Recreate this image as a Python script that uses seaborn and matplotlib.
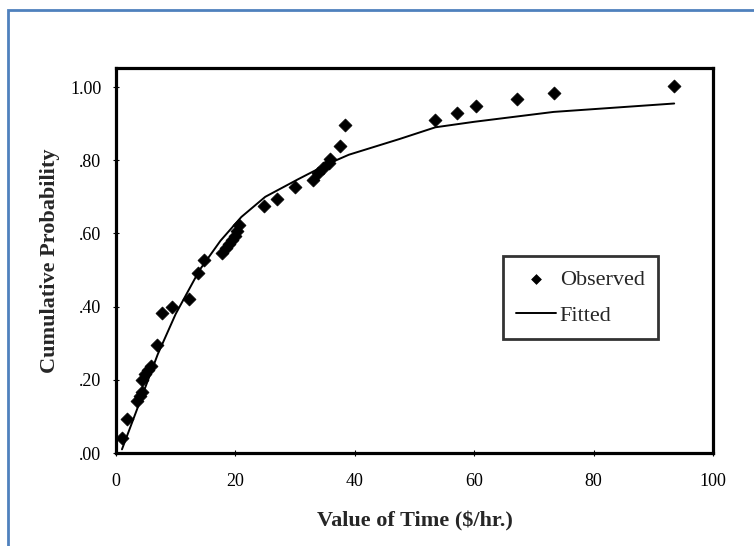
import matplotlib
matplotlib.use("Agg")
import matplotlib.pyplot as plt
from matplotlib.patches import Rectangle
import seaborn as sns
import pandas as pd

# Observed data points
obs_x = [0.96, 1.9, 3.6, 4.0, 4.4, 4.4, 4.9, 5.4, 5.9, 6.8, 7.7, 9.3, 12.3, 13.7, 14.8,
         17.8, 18.5, 18.96, 19.5, 20.0, 20.3, 20.6,
         24.8, 27.0, 30.0, 33.0, 33.8, 34.7, 35.6, 35.9, 37.5, 38.3,
         53.5, 57.2, 60.3, 67.1, 73.4, 93.5]
obs_p = [0.040, 0.092, 0.142, 0.156, 0.167, 0.200, 0.216, 0.227, 0.238, 0.295, 0.382, 0.400, 0.420, 0.493, 0.527,
         0.546, 0.560, 0.571, 0.582, 0.593, 0.607, 0.623,
         0.675, 0.693, 0.728, 0.746, 0.764, 0.779, 0.792, 0.802, 0.839, 0.896,
         0.911, 0.930, 0.949, 0.966, 0.984, 1.003]

# Fitted curve
fit_x = [1.0, 4.0, 7.0, 10.0, 14.0, 17.5, 21.0, 25.0, 30.5, 35.5, 39.0, 47.5, 53.5, 60.0, 73.3, 93.5]
fit_p = [0.01, 0.14, 0.27, 0.38, 0.50, 0.58, 0.645, 0.70, 0.748, 0.79, 0.815, 0.858, 0.89, 0.905, 0.932, 0.955]

x_ticks = [0, 20, 40, 60, 80, 100]
y_ticks = [0.0, 0.2, 0.4, 0.6, 0.8, 1.0]
y_tick_labels = [".00", ".20", ".40", ".60", ".80", "1.00"]

sns.set_style("white")
plt.rcParams["font.family"] = ["Liberation Serif", "DejaVu Serif"]

fig = plt.figure(figsize=(7.54, 5.46), dpi=100)
ax = fig.add_axes([116 / 754, 1 - 453 / 546, (713 - 116) / 754, (453 - 68) / 546])

obs_df = pd.DataFrame({"x": obs_x, "p": obs_p})
fit_df = pd.DataFrame({"x": fit_x, "p": fit_p})

sns.lineplot(data=fit_df, x="x", y="p", ax=ax, color="black", lw=1.4,
             sort=False, estimator=None, label="Fitted", legend=False)
sns.scatterplot(data=obs_df, x="x", y="p", ax=ax, color="black", marker="D",
                s=44, edgecolor="black", linewidth=0.5, label="Observed", legend=False, zorder=3)

ax.set_xlim(0, 100)
ax.set_ylim(0, 1.052)
ax.set_xticks(x_ticks)
ax.set_xticklabels([str(v) for v in x_ticks])
ax.set_yticks(y_ticks)
ax.set_yticklabels(y_tick_labels)
ax.tick_params(axis="both", direction="inout", length=5, width=0.8, colors="black",
               labelsize=13)
ax.tick_params(axis="x", pad=12)
ax.tick_params(axis="y", pad=8)
ax.tick_params(axis="both", left=True, bottom=True)
for sp in ax.spines.values():
    sp.set_visible(True)
    sp.set_color("black")
    sp.set_linewidth(2.3)

ax.set_xlabel("Value of Time ($/hr.)", fontsize=16, fontweight="bold")
ax.set_ylabel("Cumulative Probability", fontsize=16, fontweight="bold")
ax.xaxis.set_label_coords(0.5, -0.153)
ax.yaxis.set_label_coords((60 - 116) / 597, 0.5)

handles, labels = ax.get_legend_handles_labels()
order = [labels.index("Observed"), labels.index("Fitted")]
leg = ax.legend([handles[i] for i in order], [labels[i] for i in order],
                loc="upper left", bbox_to_anchor=((503 - 116) / 597, (453 - 256) / 385),
                borderaxespad=0,
                frameon=True, fancybox=False, edgecolor="black", fontsize=16,
                borderpad=0.6, labelspacing=0.7, handlelength=1.8, handletextpad=0.15,
                markerscale=0.75)
leg.get_frame().set_linewidth(2.0)

fig.patches.append(Rectangle((8 / 754, -0.2), 1.2, 1.2 - 10 / 546, transform=fig.transFigure,
                             fill=False, edgecolor="#4f81bd", linewidth=2.0))

fig.savefig("out.png", dpi=100)
